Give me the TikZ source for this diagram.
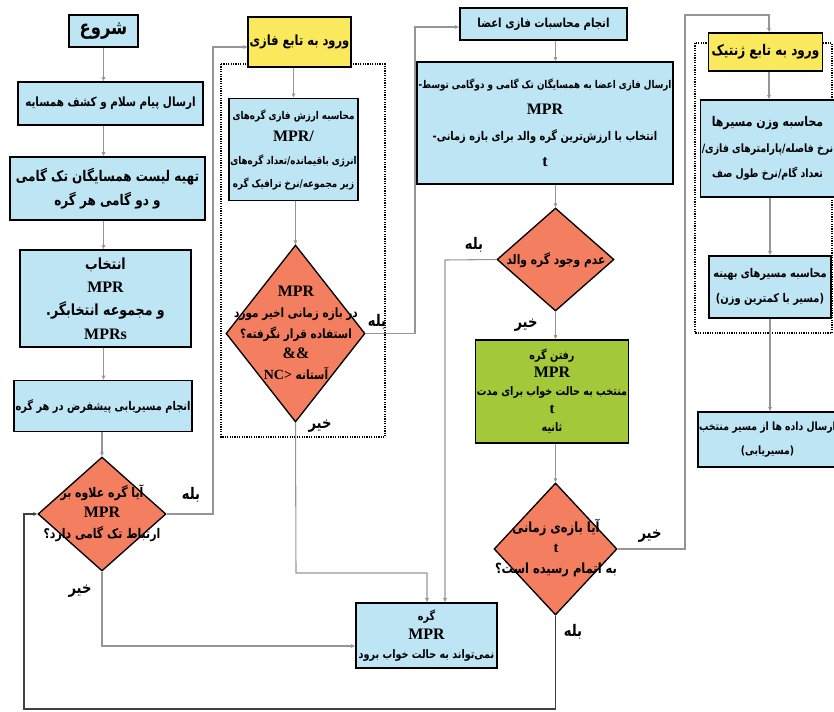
\documentclass[tikz,border=0pt]{standalone}
\usepackage{fontspec}
\setmainfont{Liberation Serif}
\newfontfamily\farsi[Script=Arabic,FakeStretch=0.82]{DejaVu Sans}
\TeXXeTstate=1
\usetikzlibrary{shapes.geometric,arrows.meta}
\definecolor{bx}{RGB}{189,229,244}
\definecolor{dm}{RGB}{244,127,96}
\definecolor{yl}{RGB}{250,233,92}
\definecolor{gn}{RGB}{163,200,58}
\definecolor{ln}{RGB}{150,150,150}
\newcommand\fa[1]{\beginR #1\endR}
\newcommand\lat[1]{{\rmfamily\bfseries #1}}
\newcommand\fs[2]{\fontsize{#1}{#2}\selectfont}
\begin{document}
\begin{tikzpicture}[x=0.75pt,y=-0.75pt,
  sz/.style 2 args={minimum width=#1*0.75pt,minimum height=#2*0.75pt},
  box/.style={draw=black,line width=1.3pt,fill=bx,inner sep=1pt,align=center,
    font=\farsi\bfseries\fs{9.5}{17}},
  ybox/.style={box,fill=yl},
  gbox/.style={box,fill=gn},
  dia/.style={diamond,draw=black,line width=1pt,fill=dm,inner sep=0pt,aspect=1},
  dtxt/.style={align=center,inner sep=0pt,font=\farsi\bfseries\fs{9.6}{15.5}},
  lbl/.style={inner sep=0pt,font=\farsi\bfseries\fs{12}{14}},
  arr/.style={draw=ln,line width=0.8pt,-{Triangle[length=3pt,width=2.6pt]}},
  dotbox/.style={draw=black,line width=1.1pt,dash pattern=on 0.9pt off 0.9pt}]
\useasboundingbox (0,0) rectangle (834,711);
% dotted groups
\draw[dotbox] (221,64) rectangle (385,437);
\draw[dotbox] (695,43) rectangle (832,333);
% left column
\node[box,sz={69}{32},font=\farsi\bfseries\fs{15}{17}] (start) at (103.5,31) {\fa{شروع}};
\node[box,sz={185}{43},font=\farsi\bfseries\fs{9.5}{17}] (b1) at (110.5,103.5) {\fa{ارسال پیام سلام و کشف همسایه}};
\node[box,sz={195}{63},font=\farsi\bfseries\fs{11}{18}] (b2) at (107.5,188.5) {\fa{تهیه لیست همسایگان تک گامی}\\ \fa{و دو گامی هر گره}};
\node[box,sz={171}{97},font=\farsi\bfseries\fs{11.5}{17.5}] (b3) at (105.5,298.5) {\fa{انتخاب}\\ \lat{\fs{12}{17.5}MPR}\\ \fa{و مجموعه انتخابگر.}\\ \lat{\fs{12}{17.5}MPRs}};
\node[box,sz={176}{51},font=\farsi\bfseries\fs{9}{17}] (b4) at (103,406) {\fa{انجام مسیریابی پیشفرض در هر گره}};
\node[dia,sz={128}{114}] (d1) at (102,514) {};
\node[dtxt,font=\farsi\bfseries\fs{10}{15.5}] (d1t) at (102,513) {\fa{آیا گره علاوه بر}\\ \lat{\fs{12}{15.5}MPR}\\ \fa{ارتباط تک گامی دارد؟}};
% fuzzy column
\node[ybox,sz={100}{50},font=\farsi\bfseries\fs{10.5}{12}] (y1) at (299.5,42) {\fa{ورود به تابع فازی}};
\node[box,sz={129}{102},font=\farsi\bfseries\fs{8}{17}] (fb1) at (293.5,149.5) {\fa{محاسبه ارزش فازی گره‌های}\\ \lat{\fs{12}{17}MPR/}\\ \fa{انرژی باقیمانده/تعداد گره‌های}\\ \fa{زیر مجموعه/نرخ ترافیک گره}};
\node[dia,sz={139}{177}] (d2) at (295.5,333.5) {};
\node[dtxt] (d2t) at (296,333) {\lat{\fs{12}{15.5}MPR}\\ \fa{در بازه زمانی اخیر مورد}\\ \fa{استفاده قرار نگرفته؟}\\ {\rmfamily\fs{12}{15.5}\&\&}\\ \fa{آستانه \beginL{\rmfamily\bfseries\fs{10.5}{12}NC>}\endL}};
\node[box,sz={141}{65},font=\farsi\bfseries\fs{8.8}{14.5}] (m) at (426.5,635.5) {\fa{گره}\\ \lat{\fs{12}{14.5}MPR}\\ \fa{نمی‌تواند به حالت خواب برود}};
% members column
\node[box,sz={167}{32},font=\farsi\bfseries\fs{9.3}{12}] (m1) at (543.5,24) {\fa{انجام محاسبات فازی اعضا}};
\node[box,sz={252}{122},font=\farsi\bfseries\fs{8}{19.5}] (big) at (545,123) {-\fa{ارسال فازی اعضا به همسایگان تک گامی و دوگامی توسط}\\ \lat{\fs{12}{19.5}MPR}\\ {\fs{9}{19.5}-\fa{انتخاب با ارزش‌ترین گره والد برای بازه زمانی}}\\ \lat{\fs{12}{19.5}t}};
\node[dia,sz={117}{103}] (d4) at (555.5,259.5) {};
\node[dtxt,font=\farsi\bfseries\fs{9.8}{12}] (d4t) at (556,260) {\fa{عدم وجود گره والد}};
\node[gbox,sz={148}{103},font=\farsi\bfseries\fs{8.8}{13.5}] (gr) at (552,391.5) {\fa{رفتن گره}\\ \lat{\fs{12}{13.5}MPR}\\ \fa{منتخب به حالت خواب برای مدت}\\ \lat{\fs{11}{13.5}t}\\ \fa{ثانیه}};
\node[dia,sz={123}{132}] (d5) at (555.5,549) {};
\node[dtxt,font=\farsi\bfseries\fs{10.5}{15.5}] (d5t) at (556,548) {\fa{آیا بازه‌ی زمانی}\\ \lat{\fs{11}{15.5}t}\\ \fa{به اتمام رسیده است؟}};
% genetic column
\node[ybox,sz={114}{38},font=\farsi\bfseries\fs{11}{12}] (y2) at (765.5,52) {\fa{ورود به تابع ژنتیک}};
\node[box,sz={129}{97},font=\farsi\bfseries\fs{8.6}{19}] (g1) at (767.5,148.5) {{\fs{10}{19}\fa{محاسبه وزن مسیرها}}\\ \fa{نرخ فاصله/پارامترهای فازی/}\\ \fa{تعداد گام/نرخ طول صف}};
\node[box,sz={122}{62},font=\farsi\bfseries\fs{9}{19}] (g2) at (770,287) {\fa{محاسبه مسیرهای بهینه}\\ \fa{(مسیر با کمترین وزن)}};
\node[box,sz={129}{55},font=\farsi\bfseries\fs{8.5}{18}] (g3) at (767.5,439.5) {\fa{ارسال داده ها از مسیر منتخب}\\ \fa{(مسیریابی)}};
% coordinates
\coordinate (c1) at (213,47);
\coordinate (c2) at (102,646);
\coordinate (c3) at (24,709);
\coordinate (c4) at (415,27);
\coordinate (c5) at (296,573);
\coordinate (c6) at (427,573);
\coordinate (c7) at (445,260);
\coordinate (c8) at (685,15);
\coordinate (c9) at (769,15);
% connectors left column
\draw[arr] (start.south) -- (start.south |- b1.north);
\draw[arr] (b1.south -| start.south) -- (start.south |- b2.north);
\draw[arr] (b2.south -| start.south) -- (start.south |- b3.north);
\draw[arr] (b3.south -| start.south) -- (start.south |- b4.north);
\draw[arr] (b4.south -| d1.north) -- (d1.north);
\draw[arr] (d1.east) -| (c1) -- (c1 -| y1.west);
\draw[arr] (d1.south) -- (c2) -- (c2 -| m.west);
\draw[arr,draw=black!75] (d5.south) |- (c3) |- (d1.west);
% fuzzy column
\draw[arr] (y1.south -| fb1.north) -- (fb1.north);
\draw[arr] (fb1.south -| d2.north) -- (d2.north);
\draw[arr] (d2.east) -| (c4) -- (c4 -| m1.west);
\draw[arr] (d2.south) -- (c5) -- (c6) -- (c6 |- m.north);
% members column
\draw[arr] (m1.south -| d4.north) -- (d4.north |- big.north);
\draw[arr] (big.south -| d4.north) -- (d4.north);
\draw[arr] (d4.west) -- (c7) -- (c7 |- m.north);
\draw[arr] (d4.south) -- (d4.south |- gr.north);
\draw[arr] (gr.south -| d5.north) -- (d5.north);
\draw[arr] (d5.east) -| (c8) -- (c9) -- (c9 |- y2.north);
% genetic column
\draw[arr] (y2.south -| c9) -- (c9 |- g1.north);
\draw[arr] (g1.south -| g2.north) -- (g2.north);
\draw[arr] (g2.south) -- (g2.south |- g3.north);
% labels
\node[lbl] (l1) at (191,495) {\fa{بله}};
\node[lbl] (l2) at (80,591) {\fa{خیر}};
\node[lbl] (l3) at (377,322) {\fa{بله}};
\node[lbl] (l4) at (320,426) {\fa{خیر}};
\node[lbl] (l5) at (474,245) {\fa{بله}};
\node[lbl] (l6) at (526,325) {\fa{خیر}};
\node[lbl] (l7) at (650,536) {\fa{خیر}};
\node[lbl] (l8) at (573,632) {\fa{بله}};
\end{tikzpicture}
\end{document}
